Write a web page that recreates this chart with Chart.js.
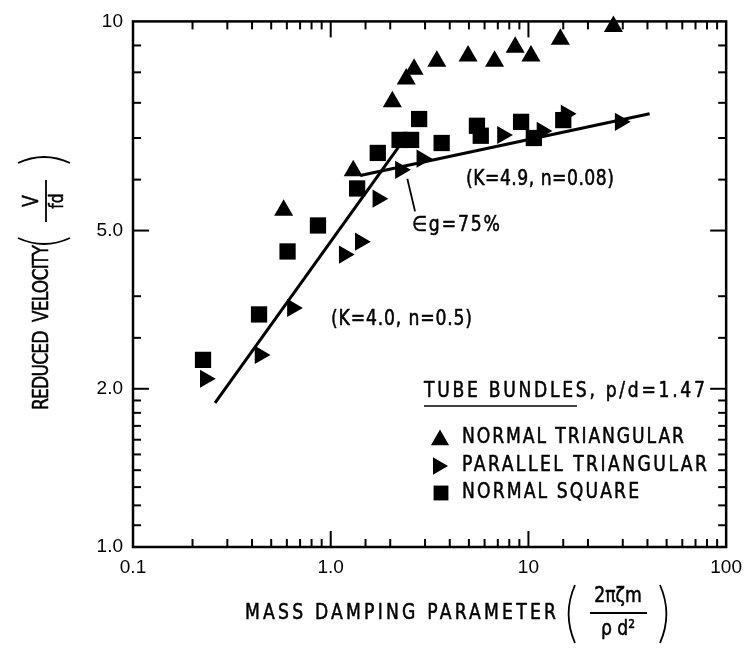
<!DOCTYPE html>
<html>
<head>
<meta charset="utf-8">
<script src="https://cdn.jsdelivr.net/npm/chart.js@4.4.1/dist/chart.umd.min.js"></script>
<style>
html,body{margin:0;padding:0;background:#fff;}
#wrap{width:751px;height:652px;position:relative;}
</style>
</head>
<body>
<div id="wrap"><canvas id="c" width="751" height="652"></canvas></div>
<script>
// ---------------- data ----------------
const seriesNames = ['NORMAL TRIANGULAR', 'PARALLEL TRIANGULAR', 'NORMAL SQUARE'];

const normalTriX = [0.578, 1.30, 2.05, 2.41, 2.64, 3.44, 4.95, 6.74, 8.57, 10.3, 14.5, 26.9];
const normalTriY = [4.37, 5.20, 7.03, 7.77, 8.11, 8.40, 8.59, 8.40, 8.93, 8.59, 9.25, 9.78];

const parallelTriX = [0.232, 0.439, 0.64, 1.17, 1.41, 1.73, 2.25, 2.89, 7.39, 11.7, 15.5, 29.1];
const parallelTriY = [2.09, 2.32, 2.85, 3.60, 3.81, 4.60, 5.22, 5.48, 6.08, 6.19, 6.67, 6.44];

const normalSqX = [0.226, 0.434, 0.605, 0.862, 1.36, 1.73, 2.23, 2.55, 2.80, 3.64, 5.49, 5.74, 9.18, 10.65, 15.0];
const normalSqY = [2.27, 2.77, 3.65, 4.09, 4.81, 5.62, 5.95, 5.95, 6.52, 5.87, 6.33, 6.06, 6.44, 6.00, 6.49];

// fitted lines (end points)
const fitLowX = [0.26, 2.3];   // K=4.0, n=0.5
const fitLowY = [1.88, 5.9];
const fitHighX = [1.41, 41.0]; // K=4.9, n=0.08
const fitHighY = [5.09, 6.67];

// leader line of the "eg=75%" note (data coordinates)
const leaderX = [2.44, 2.67];
const leaderY = [5.02, 4.35];

const xTickValues = [0.1, 1, 10, 100];
const xTickLabels = ['0.1', '1.0', '10', '100'];
const yTickValues = [1, 2, 4, 10];
const yTickLabels = ['1.0', '2.0', '5.0', '10'];

// ---------------- helpers ----------------
const pts = (xs, ys) => xs.map((x, i) => ({x: x, y: ys[i]}));
const near = (a, b) => Math.abs(Math.log10(a) - Math.log10(b)) < 1e-6;
const isDecade = v => Math.abs(Math.log10(v) - Math.round(Math.log10(v))) < 1e-6;
const labelFor = (v, vals, labs) => { const i = vals.findIndex(t => near(t, v)); return i >= 0 ? labs[i] : ''; };
const FONT = '"DejaVu Sans", "Liberation Sans", sans-serif';
const TICKFONT = '"Liberation Sans", Arial, sans-serif';
const CONDENSE = 0.82;
const WEIGHT = 0.55; // extra stroke to mimic the heavy lettering

function seg(ctx, x1, y1, x2, y2) { ctx.beginPath(); ctx.moveTo(x1, y1); ctx.lineTo(x2, y2); ctx.stroke(); }

// draws text condensed horizontally, spaced so that it spans x1..x2
function fitText(ctx, str, x1, x2, yc, size, family) {
  ctx.save();
  ctx.font = size + 'px ' + family;
  ctx.textBaseline = 'middle';
  ctx.textAlign = 'left';
  ctx.fillStyle = '#000';
  ctx.strokeStyle = '#000';
  ctx.lineWidth = WEIGHT;
  ctx.lineJoin = 'round';
  const hasLS = ('letterSpacing' in ctx);
  if (hasLS) ctx.letterSpacing = '0px';
  const w = ctx.measureText(str).width;
  const target = (x2 - x1) / CONDENSE;
  ctx.translate(x1, yc);
  ctx.scale(CONDENSE, 1);
  if (hasLS && str.length > 1) {
    const sp = (target - w) / (str.length - 1);
    ctx.letterSpacing = sp.toFixed(2) + 'px';
  } else {
    ctx.scale(target / w, 1);
  }
  ctx.fillText(str, 0, 0);
  ctx.strokeText(str, 0, 0);
  ctx.restore();
}

function centerText(ctx, str, xc, yc, size, family) {
  ctx.save();
  ctx.font = size + 'px ' + family;
  ctx.textBaseline = 'middle';
  ctx.textAlign = 'center';
  ctx.fillStyle = '#000';
  ctx.strokeStyle = '#000';
  ctx.lineWidth = WEIGHT;
  ctx.translate(xc, yc);
  ctx.scale(CONDENSE, 1);
  ctx.fillText(str, 0, 0);
  ctx.strokeText(str, 0, 0);
  ctx.restore();
}

function paren(ctx, x, yTop, yBot, dir) {
  // thin tall parenthesis, dir = -1 for "(", +1 for ")"
  const h = yBot - yTop;
  ctx.beginPath();
  ctx.moveTo(x, yTop);
  ctx.quadraticCurveTo(x + dir * h * 0.22, (yTop + yBot) / 2, x, yBot);
  ctx.stroke();
}

function drawMarker(ctx, style, rotation, radius, x, y) {
  ctx.fillStyle = '#000';
  ctx.strokeStyle = '#000';
  if (Chart.helpers && Chart.helpers.drawPoint) {
    Chart.helpers.drawPoint(ctx, {pointStyle: style, rotation: rotation, radius: radius, borderWidth: 0}, x, y);
  }
}

const decoPlugin = {
  id: 'deco',
  beforeDatasetsDraw(chart) {
    const ctx = chart.ctx, a = chart.chartArea, xs = chart.scales.x, ys = chart.scales.y;
    ctx.save();
    ctx.strokeStyle = '#000';
    ctx.lineWidth = 2.5;
    ctx.strokeRect(a.left, a.top, a.right - a.left, a.bottom - a.top);
    ctx.lineWidth = 2;
    xs.ticks.forEach(t => {
      const px = xs.getPixelForValue(t.value);
      if (px <= a.left + 1 || px >= a.right - 1) return;
      const L = isDecade(t.value) ? 16 : 8;
      seg(ctx, px, a.bottom, px, a.bottom - L);
      seg(ctx, px, a.top, px, a.top + L);
    });
    ys.ticks.forEach(t => {
      const py = ys.getPixelForValue(t.value);
      if (py <= a.top + 1 || py >= a.bottom - 1) return;
      const L = yTickValues.some(v => near(v, t.value)) ? 16 : 8;
      seg(ctx, a.left, py, a.left + L, py);
      seg(ctx, a.right, py, a.right - L, py);
    });
    ctx.restore();
  },
  afterDraw(chart) {
    const ctx = chart.ctx, xs = chart.scales.x, ys = chart.scales.y;
    ctx.save();
    ctx.strokeStyle = '#000';
    ctx.fillStyle = '#000';

    // notes
    fitText(ctx, '(K=4.9, n=0.08)', 466, 614, 180, 21, FONT);
    fitText(ctx, '∈g=75%', 412, 500, 226, 21, FONT);
    ctx.lineWidth = 1.8;
    seg(ctx, xs.getPixelForValue(leaderX[0]), ys.getPixelForValue(leaderY[0]),
             xs.getPixelForValue(leaderX[1]), ys.getPixelForValue(leaderY[1]));
    fitText(ctx, '(K=4.0, n=0.5)', 331, 472, 320, 21, FONT);

    // legend
    fitText(ctx, 'TUBE BUNDLES, p/d=1.47', 424, 705, 392, 21, FONT);
    ctx.lineWidth = 1.6;
    seg(ctx, 424, 406, 577, 406);
    const rows = [438, 466, 493];
    const styles = [['triangle', 0, 10.5, 440, 2], ['triangle', 90, 10, 438, 0], ['rect', 0, 10.5, 441, 0]];
    const ends = [684, 707, 639];
    rows.forEach((ry, i) => {
      const s = styles[i];
      drawMarker(ctx, s[0], s[1], s[2], s[3], ry + s[4]);
      fitText(ctx, seriesNames[i], 462, ends[i], ry, 21, FONT);
    });

    // x axis title
    fitText(ctx, 'MASS DAMPING PARAMETER', 245, 556, 614, 21, FONT);
    ctx.lineWidth = 1.8;
    paren(ctx, 575, 585, 643, -1);
    paren(ctx, 660, 585, 643, 1);
    centerText(ctx, '2πζm', 618, 597, 21, FONT);
    seg(ctx, 590, 613, 647, 613);
    centerText(ctx, 'ρ d²', 618, 630, 21, FONT);

    // y axis title (rotated, reads bottom to top)
    ctx.save();
    ctx.translate(43, 0);
    ctx.rotate(-Math.PI / 2);
    fitText(ctx, 'REDUCED  VELOCITY', -410, -245, 0, 21, FONT);
    ctx.lineWidth = 1.8;
    ctx.beginPath(); ctx.moveTo(-238, -25); ctx.quadraticCurveTo(-250, 1, -238, 27); ctx.stroke();
    ctx.beginPath(); ctx.moveTo(-163, -25); ctx.quadraticCurveTo(-151, 1, -163, 27); ctx.stroke();
    centerText(ctx, 'V', -201, -10, 21, FONT);
    seg(ctx, -222, 3, -180, 3);
    centerText(ctx, 'fd', -201, 15, 19, FONT);
    ctx.restore();

    ctx.restore();
  }
};

const ctx = document.getElementById('c').getContext('2d');
new Chart(ctx, {
  type: 'scatter',
  data: {
    datasets: [
      {label: seriesNames[0], data: pts(normalTriX, normalTriY), pointStyle: 'triangle', pointRadius: 11,
       backgroundColor: '#000', borderColor: '#000', borderWidth: 0, clip: false},
      {label: seriesNames[1], data: pts(parallelTriX, parallelTriY), pointStyle: 'triangle', pointRotation: 90, pointRadius: 10.5,
       backgroundColor: '#000', borderColor: '#000', borderWidth: 0, clip: false},
      {label: seriesNames[2], data: pts(normalSqX, normalSqY), pointStyle: 'rect', pointRadius: 11.5,
       backgroundColor: '#000', borderColor: '#000', borderWidth: 0, clip: false},
      {label: 'K=4.0, n=0.5', data: pts(fitLowX, fitLowY), showLine: true, pointRadius: 0,
       borderColor: '#000', borderWidth: 3, fill: false},
      {label: 'K=4.9, n=0.08', data: pts(fitHighX, fitHighY), showLine: true, pointRadius: 0,
       borderColor: '#000', borderWidth: 3, fill: false}
    ]
  },
  options: {
    responsive: false,
    animation: false,
    events: [],
    layout: {padding: {left: 0, top: 19, right: 15, bottom: 0}},
    plugins: {legend: {display: false}, tooltip: {enabled: false}},
    scales: {
      x: {
        type: 'logarithmic', min: 0.1, max: 100, position: 'bottom',
        grid: {display: false, drawTicks: false}, border: {display: false},
        ticks: {autoSkip: false, maxRotation: 0, padding: 9, color: '#000',
                font: {family: TICKFONT, size: 19},
                callback: v => labelFor(v, xTickValues, xTickLabels)},
        afterFit: s => { s.height = 105; }
      },
      y: {
        type: 'logarithmic', min: 1, max: 10, position: 'left',
        grid: {display: false, drawTicks: false}, border: {display: false},
        ticks: {autoSkip: false, padding: 10, color: '#000',
                font: {family: TICKFONT, size: 19},
                callback: v => labelFor(v, yTickValues, yTickLabels)},
        afterFit: s => { s.width = 133; }
      }
    }
  },
  plugins: [decoPlugin]
});
</script>
</body>
</html>
